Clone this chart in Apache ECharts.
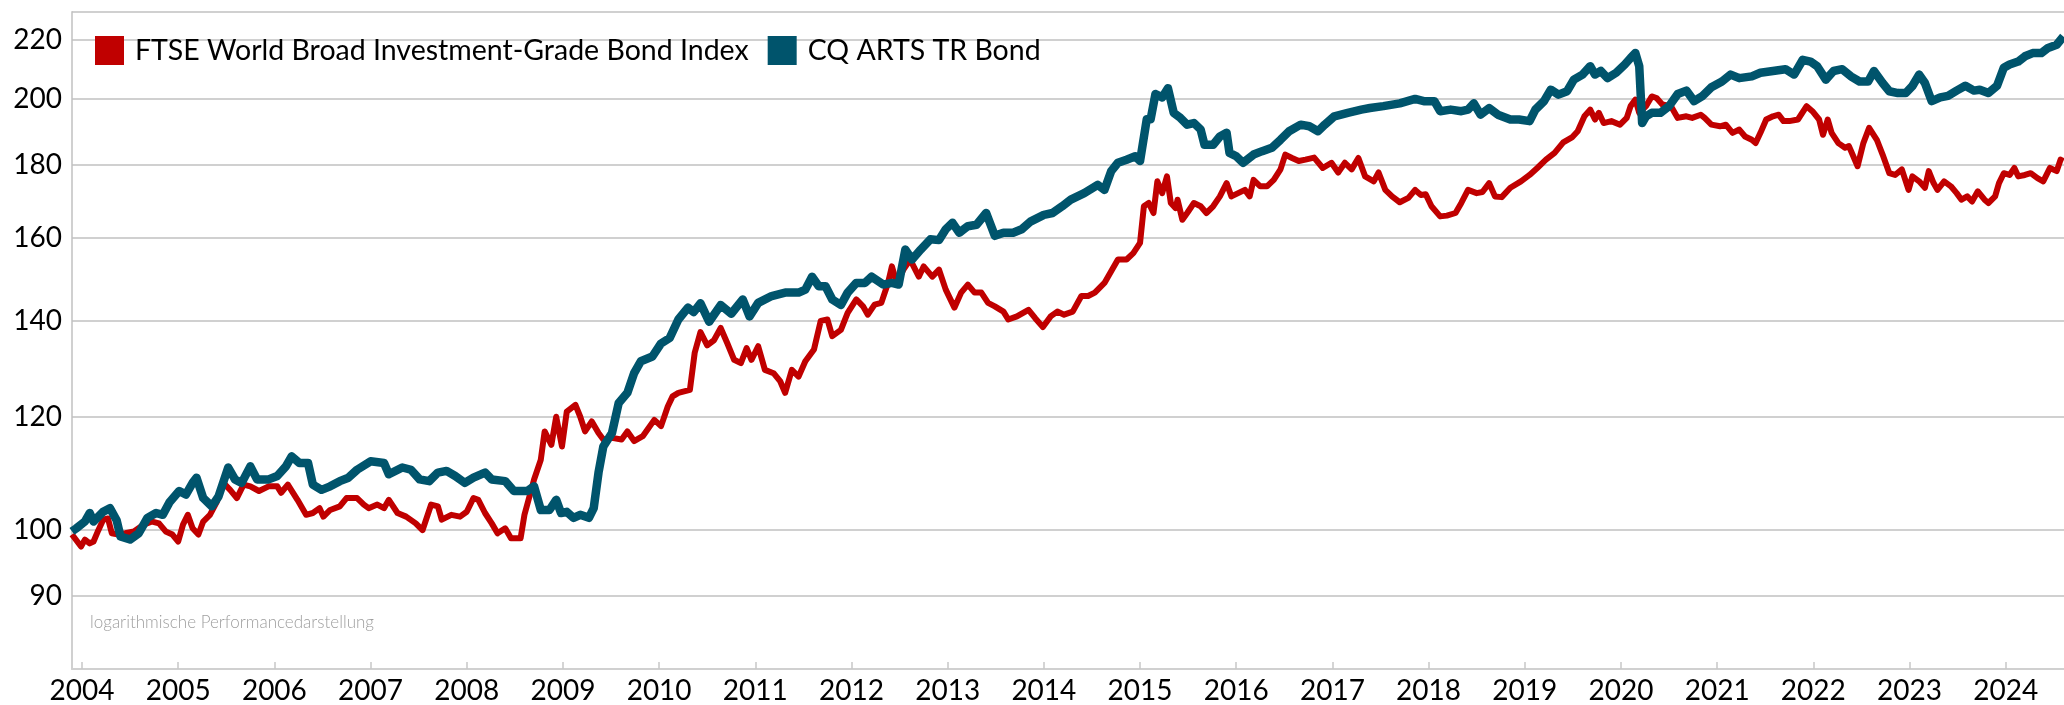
<!DOCTYPE html>
<html>
<head>
<meta charset="utf-8">
<script src="https://cdn.jsdelivr.net/npm/echarts@6/dist/echarts.min.js"></script>
<style>
  html, body { margin: 0; padding: 0; background: #fff; }
  #chart { width: 2064px; height: 705px; }
</style>
</head>
<body>
<div id="chart"></div>
<script>
// Zeitachse in Dezimaljahren, Werte indexiert (Start = 100)
const ftseYears = [
  2003.896, 2003.99, 2004.03, 2004.08, 2004.12, 2004.17, 2004.22, 2004.27, 2004.31, 2004.38, 2004.45, 2004.54, 2004.64, 2004.73, 2004.80, 2004.87, 2004.94,
  2005.00, 2005.05, 2005.10, 2005.15, 2005.21, 2005.26, 2005.33, 2005.40, 2005.47, 2005.54, 2005.61, 2005.68, 2005.75, 2005.84, 2005.94,
  2006.03, 2006.07, 2006.14, 2006.24, 2006.33, 2006.40, 2006.47, 2006.51, 2006.58, 2006.68, 2006.75, 2006.86, 2006.93, 2006.98,
  2007.07, 2007.14, 2007.19, 2007.28, 2007.37, 2007.47, 2007.54, 2007.63, 2007.70, 2007.74, 2007.84, 2007.93,
  2008.00, 2008.07, 2008.12, 2008.19, 2008.26, 2008.32, 2008.40, 2008.46, 2008.56, 2008.60, 2008.70, 2008.77, 2008.81, 2008.88, 2008.93, 2008.99,
  2009.04, 2009.13, 2009.18, 2009.23, 2009.30, 2009.37, 2009.42, 2009.51, 2009.61, 2009.67, 2009.74, 2009.83, 2009.95,
  2010.02, 2010.09, 2010.14, 2010.20, 2010.32, 2010.37, 2010.43, 2010.50, 2010.57, 2010.64, 2010.71, 2010.78, 2010.85, 2010.91, 2010.96,
  2011.03, 2011.10, 2011.19, 2011.26, 2011.31, 2011.38, 2011.45, 2011.52, 2011.61, 2011.68, 2011.75, 2011.80, 2011.89, 2011.96,
  2012.05, 2012.12, 2012.17, 2012.24, 2012.31, 2012.38, 2012.42, 2012.47, 2012.54, 2012.61, 2012.70, 2012.75, 2012.84, 2012.91, 2012.98,
  2013.07, 2013.14, 2013.21, 2013.28, 2013.35, 2013.42, 2013.49, 2013.58, 2013.63, 2013.72, 2013.84, 2013.91, 2013.99,
  2014.07, 2014.14, 2014.21, 2014.30, 2014.39, 2014.46, 2014.53, 2014.63, 2014.70, 2014.77, 2014.86, 2014.93,
  2015.00, 2015.04, 2015.09, 2015.14, 2015.18, 2015.23, 2015.28, 2015.32, 2015.37, 2015.39, 2015.44, 2015.49, 2015.56, 2015.63, 2015.69, 2015.76, 2015.83, 2015.90, 2015.95,
  2016.02, 2016.09, 2016.14, 2016.18, 2016.25, 2016.32, 2016.39, 2016.46, 2016.51, 2016.58, 2016.65, 2016.72, 2016.81, 2016.90, 2016.99,
  2017.06, 2017.13, 2017.20, 2017.27, 2017.34, 2017.43, 2017.48, 2017.55, 2017.62, 2017.70, 2017.79, 2017.86, 2017.92, 2017.97,
  2018.03, 2018.12, 2018.19, 2018.28, 2018.34, 2018.41, 2018.50, 2018.56, 2018.63, 2018.69, 2018.76, 2018.85, 2018.96,
  2019.05, 2019.13, 2019.22, 2019.31, 2019.40, 2019.49, 2019.55, 2019.62, 2019.68, 2019.73, 2019.77, 2019.82, 2019.90, 2019.99,
  2020.06, 2020.10, 2020.15, 2020.19, 2020.26, 2020.32, 2020.37, 2020.43, 2020.52, 2020.59, 2020.68, 2020.74, 2020.83, 2020.87, 2020.94,
  2021.03, 2021.09, 2021.16, 2021.23, 2021.29, 2021.36, 2021.40, 2021.45, 2021.51, 2021.58, 2021.64, 2021.69, 2021.75, 2021.84, 2021.93, 2021.99,
  2022.06, 2022.10, 2022.15, 2022.19, 2022.26, 2022.33, 2022.37, 2022.46, 2022.52, 2022.58, 2022.66, 2022.72, 2022.79, 2022.85, 2022.92, 2022.99,
  2023.03, 2023.10, 2023.16, 2023.20, 2023.25, 2023.29, 2023.36, 2023.43, 2023.49, 2023.54, 2023.60, 2023.65, 2023.71, 2023.78, 2023.82, 2023.89, 2023.93, 2023.98,
  2024.04, 2024.09, 2024.13, 2024.20, 2024.26, 2024.33, 2024.39, 2024.46, 2024.53, 2024.57, 2024.60
];
const ftseValues = [
  99.3, 97.4, 98.5, 97.9, 98.2, 100.0, 101.7, 101.9, 99.5, 99.3, 99.5, 99.8, 100.9, 101.4, 101.1, 99.8, 99.3,
  98.2, 100.9, 102.5, 100.3, 99.3, 101.4, 102.5, 104.6, 107.9, 106.7, 105.3, 107.6, 107.3, 106.5, 107.3,
  107.3, 106.2, 107.6, 105.0, 102.5, 102.8, 103.6, 102.2, 103.3, 103.9, 105.3, 105.3, 104.2, 103.6,
  104.2, 103.6, 105.0, 102.8, 102.2, 101.1, 100.0, 104.2, 103.9, 101.7, 102.5, 102.2,
  103.0, 105.3, 105.0, 102.8, 101.1, 99.5, 100.3, 98.7, 98.7, 102.5, 108.5, 112.0, 117.2, 114.7, 120.0, 114.4,
  121.0, 122.3, 120.0, 117.2, 119.1, 116.9, 115.7, 116.0, 115.7, 117.2, 115.4, 116.3, 119.4,
  118.2, 122.0, 124.0, 124.7, 125.3, 133.0, 137.5, 134.6, 135.7, 138.4, 135.0, 131.5, 130.8, 134.0, 131.5,
  134.4, 129.4, 128.7, 127.0, 124.7, 129.4, 128.0, 131.2, 133.7, 140.0, 140.3, 136.6, 138.0, 141.8,
  144.9, 143.3, 141.4, 143.7, 144.1, 148.8, 152.8, 148.8, 152.0, 154.5, 150.3, 152.8, 150.3, 152.0, 147.2,
  143.0, 146.5, 148.4, 146.5, 146.5, 144.1, 143.3, 142.1, 140.3, 141.0, 142.5, 140.6, 138.6,
  141.0, 142.1, 141.4, 142.1, 145.7, 145.7, 146.5, 148.8, 151.6, 154.5, 154.5, 156.1,
  158.7, 168.3, 169.2, 166.5, 175.2, 171.9, 176.6, 169.2, 167.8, 170.1, 164.7, 166.5, 169.2, 168.3, 166.5, 168.3, 171.0, 174.7, 171.0,
  171.9, 172.8, 171.0, 175.6, 173.8, 173.8, 175.6, 178.6, 182.9, 181.9, 181.0, 181.4, 182.0, 179.0, 180.5,
  177.7, 180.5, 178.6, 181.9, 176.6, 175.2, 177.7, 172.8, 171.0, 169.4, 170.6, 172.8, 171.4, 171.6,
  168.3, 165.6, 165.8, 166.5, 169.2, 172.8, 171.9, 172.2, 174.7, 171.0, 170.8, 173.4, 175.2,
  177.0, 179.0, 181.4, 183.4, 186.5, 188.0, 189.9, 194.5, 196.6, 193.5, 195.6, 192.4, 193.0, 191.9,
  194.0, 197.7, 199.8, 195.6, 197.7, 200.8, 200.3, 198.2, 197.7, 194.0, 194.5, 194.0, 195.0, 194.0, 191.9,
  191.4, 191.9, 189.4, 190.4, 188.3, 187.3, 186.3, 189.4, 193.5, 194.5, 195.0, 193.0, 193.0, 193.5, 197.7, 196.1,
  193.5, 188.8, 193.5, 189.4, 186.3, 184.9, 185.4, 179.5, 186.3, 190.9, 187.3, 182.9, 177.5, 177.0, 178.6, 172.8,
  176.6, 175.2, 173.4, 178.1, 174.7, 172.8, 175.2, 173.8, 171.9, 170.1, 171.0, 169.6, 172.4, 170.1, 169.2, 171.0, 174.7, 177.5,
  177.0, 179.0, 176.6, 177.0, 177.5, 176.1, 175.2, 179.0, 178.1, 181.4, 181.0
];

const cqYears = [
  2003.896, 2003.94, 2004.03, 2004.08, 2004.12, 2004.22, 2004.29, 2004.36, 2004.40, 2004.50, 2004.59, 2004.68, 2004.77, 2004.84, 2004.91,
  2005.01, 2005.08, 2005.15, 2005.19, 2005.26, 2005.35, 2005.42, 2005.52, 2005.59, 2005.66, 2005.75, 2005.82, 2005.94,
  2006.03, 2006.12, 2006.18, 2006.26, 2006.35, 2006.40, 2006.49, 2006.58, 2006.68, 2006.77, 2006.86,
  2007.00, 2007.14, 2007.19, 2007.33, 2007.42, 2007.51, 2007.61, 2007.70, 2007.79, 2007.88, 2007.98,
  2008.07, 2008.19, 2008.26, 2008.40, 2008.49, 2008.63, 2008.70, 2008.77, 2008.86, 2008.93, 2008.98,
  2009.04, 2009.11, 2009.18, 2009.27, 2009.32, 2009.37, 2009.42, 2009.51, 2009.58, 2009.67, 2009.74, 2009.81, 2009.93,
  2010.02, 2010.11, 2010.20, 2010.30, 2010.36, 2010.43, 2010.52, 2010.64, 2010.75, 2010.87, 2010.94,
  2011.03, 2011.17, 2011.31, 2011.45, 2011.52, 2011.59, 2011.66, 2011.73, 2011.80, 2011.89, 2011.96,
  2012.05, 2012.14, 2012.21, 2012.33, 2012.42, 2012.49, 2012.56, 2012.63, 2012.72, 2012.82, 2012.91, 2012.98,
  2013.05, 2013.12, 2013.21, 2013.30, 2013.40, 2013.49, 2013.58, 2013.68, 2013.77, 2013.86,
  2014.00, 2014.09, 2014.19, 2014.28, 2014.42, 2014.56, 2014.63, 2014.70, 2014.77, 2014.86, 2014.95,
  2015.00, 2015.07, 2015.11, 2015.16, 2015.23, 2015.29, 2015.35, 2015.42, 2015.49, 2015.56, 2015.63, 2015.67, 2015.76, 2015.83, 2015.90, 2015.93,
  2016.00, 2016.07, 2016.18, 2016.27, 2016.37, 2016.46, 2016.55, 2016.67, 2016.76, 2016.85, 2016.92,
  2017.02, 2017.16, 2017.30, 2017.39, 2017.53, 2017.70, 2017.86, 2017.95,
  2018.06, 2018.12, 2018.23, 2018.34, 2018.41, 2018.47, 2018.54, 2018.63, 2018.72, 2018.85, 2018.94,
  2019.05, 2019.11, 2019.20, 2019.27, 2019.35, 2019.44, 2019.51, 2019.60, 2019.68, 2019.73, 2019.79, 2019.86, 2019.95,
  2020.04, 2020.10, 2020.15, 2020.19, 2020.22, 2020.26, 2020.32, 2020.41, 2020.50, 2020.59, 2020.68, 2020.76, 2020.85, 2020.94,
  2021.05, 2021.14, 2021.23, 2021.36, 2021.45, 2021.58, 2021.71, 2021.80, 2021.89, 2021.97,
  2022.04, 2022.13, 2022.21, 2022.30, 2022.39, 2022.48, 2022.57, 2022.63, 2022.72, 2022.79, 2022.88, 2022.96,
  2023.03, 2023.10, 2023.16, 2023.23, 2023.32, 2023.40, 2023.49, 2023.58, 2023.67, 2023.73, 2023.82, 2023.91, 2023.98,
  2024.04, 2024.13, 2024.20, 2024.28, 2024.37, 2024.44, 2024.53, 2024.60
];
const cqValues = [
  99.8, 100.3, 101.4, 102.8, 101.4, 103.0, 103.6, 101.6, 99.0, 98.5, 99.5, 102.0, 102.8, 102.5, 104.6,
  106.5, 105.9, 107.9, 108.8, 105.3, 103.9, 105.6, 110.6, 108.5, 107.9, 110.8, 108.5, 108.5,
  109.1, 110.8, 112.6, 111.4, 111.4, 107.6, 106.7, 107.3, 108.2, 108.8, 110.2,
  111.7, 111.4, 109.4, 110.6, 110.2, 108.5, 108.2, 109.7, 110.0, 109.1, 107.9,
  108.8, 109.7, 108.5, 108.2, 106.5, 106.5, 107.3, 103.3, 103.3, 105.0, 102.8,
  103.0, 102.0, 102.5, 102.0, 103.6, 109.7, 114.4, 116.9, 122.7, 124.7, 128.7, 131.2, 132.2,
  135.0, 136.2, 140.3, 143.0, 142.0, 144.0, 139.8, 143.6, 141.6, 144.9, 141.0,
  144.1, 145.7, 146.5, 146.5, 147.2, 150.3, 148.0, 148.0, 144.9, 143.6, 146.5,
  148.8, 148.8, 150.3, 148.4, 148.8, 148.4, 157.0, 154.5, 157.0, 159.6, 159.4, 162.2,
  163.9, 161.3, 163.0, 163.4, 166.5, 160.5, 161.3, 161.3, 162.2, 164.2,
  166.0, 166.5, 168.3, 170.1, 171.9, 174.2, 172.8, 178.1, 180.5, 181.4, 182.4,
  181.0, 193.6, 193.6, 201.6, 200.5, 203.5, 195.6, 194.0, 191.9, 192.4, 190.4, 185.8, 185.8, 188.3, 189.4, 183.4,
  182.4, 180.5, 182.9, 183.9, 184.9, 187.3, 189.9, 191.9, 191.4, 189.9, 191.9,
  194.5, 195.6, 196.6, 197.1, 197.7, 198.6, 200.0, 199.3,
  199.3, 196.1, 196.6, 196.1, 196.6, 198.6, 195.0, 197.1, 195.0, 193.5, 193.5,
  193.0, 196.6, 199.3, 203.0, 201.4, 202.5, 206.3, 208.0, 210.8, 208.0, 209.2, 206.8, 208.6,
  211.4, 213.6, 215.3, 210.8, 192.4, 194.5, 195.6, 195.6, 197.7, 201.6, 202.7, 199.3, 201.0, 203.8,
  205.7, 208.0, 206.8, 207.4, 208.6, 209.2, 209.8, 208.0, 213.0, 212.4,
  210.8, 206.3, 209.2, 209.8, 207.4, 205.7, 205.7, 209.2, 205.2, 202.5, 201.9, 201.9,
  204.2, 208.0, 205.2, 199.3, 200.5, 201.0, 202.7, 204.3, 202.7, 203.0, 201.9, 204.3, 210.3,
  211.4, 212.4, 214.2, 215.3, 215.3, 217.1, 218.2, 221.1
];

const seriesNames = ['FTSE World Broad Investment-Grade Bond Index', 'CQ ARTS TR Bond'];
const yearTicks = [2004, 2005, 2006, 2007, 2008, 2009, 2010, 2011, 2012, 2013, 2014, 2015, 2016, 2017, 2018, 2019, 2020, 2021, 2022, 2023, 2024];
const yTicks = [90, 100, 120, 140, 160, 180, 200, 220];
const note = 'logarithmische Performancedarstellung';

const X_MIN = 2003.896, X_MAX = 2024.606, Y_MIN = 80, Y_MAX = 230;
const FONT = 'Lato, "Open Sans", sans-serif';

const chart = echarts.init(document.getElementById('chart'), null, { renderer: 'canvas' });

const pairs = (xs, ys) => xs.map((x, i) => [x, ys[i]]);

// Gitterlinien der Log-Achse als markLine (inkl. oberer Rahmen bei max)
const gridLines = yTicks.map(v => ({ yAxis: v }))
  .concat([{ yAxis: Y_MAX, label: { show: false } }]);

const option = {
  animation: false,
  backgroundColor: '#fff',
  textStyle: { fontFamily: FONT },
  grid: { left: 72, right: 0, top: 12, bottom: 36, containLabel: false },
  legend: {
    data: seriesNames,
    left: 95,
    top: 36,
    padding: 0,
    icon: 'rect',
    itemWidth: 29,
    itemHeight: 29,
    itemGap: 19,
    textStyle: { fontSize: 28.5, color: '#000', fontFamily: FONT, padding: [0, 0, 0, 6] }
  },
  xAxis: {
    type: 'value',
    min: X_MIN,
    max: X_MAX,
    axisLine: { show: true, lineStyle: { color: '#d0d0d0', width: 2 } },
    axisTick: { show: true, inside: true, length: 7, customValues: yearTicks, lineStyle: { color: '#c8c8c8', width: 1.5 } },
    axisLabel: {
      customValues: yearTicks,
      formatter: v => String(Math.round(v)),
      fontSize: 28, color: '#000', fontFamily: FONT, margin: 8
    },
    splitLine: { show: false }
  },
  yAxis: {
    type: 'log',
    logBase: 10,
    min: Y_MIN,
    max: Y_MAX,
    axisLine: { show: true, lineStyle: { color: '#d0d0d0', width: 2 } },
    axisTick: { show: false },
    axisLabel: { show: false },
    splitLine: { show: false }
  },
  graphic: [{
    type: 'text',
    left: 90,
    top: 614,
    style: { text: note, fontSize: 17, fontWeight: 300, fill: '#9e9e9e', fontFamily: FONT }
  }],
  series: [
    {
      type: 'line',
      name: '_grid',
      data: [],
      silent: true,
      z: 1,
      markLine: {
        silent: true,
        symbol: 'none',
        z: 1,
        animation: false,
        lineStyle: { type: 'solid', color: '#c0c0c0', width: 1.5 },
        label: { show: true, position: 'start', distance: 10, formatter: p => String(p.value), fontSize: 28, color: '#000', fontFamily: FONT },
        emphasis: { disabled: true },
        data: gridLines
      }
    },
    {
      type: 'line',
      name: seriesNames[0],
      data: pairs(ftseYears, ftseValues),
      showSymbol: false,
      z: 3,
      lineStyle: { color: '#c00000', width: 6, join: 'round' },
      itemStyle: { color: '#c00000' }
    },
    {
      type: 'line',
      name: seriesNames[1],
      data: pairs(cqYears, cqValues),
      showSymbol: false,
      z: 4,
      lineStyle: { color: '#00546c', width: 8.5, join: 'round' },
      itemStyle: { color: '#00546c' }
    }
  ]
};

chart.setOption(option);
</script>
</body>
</html>
